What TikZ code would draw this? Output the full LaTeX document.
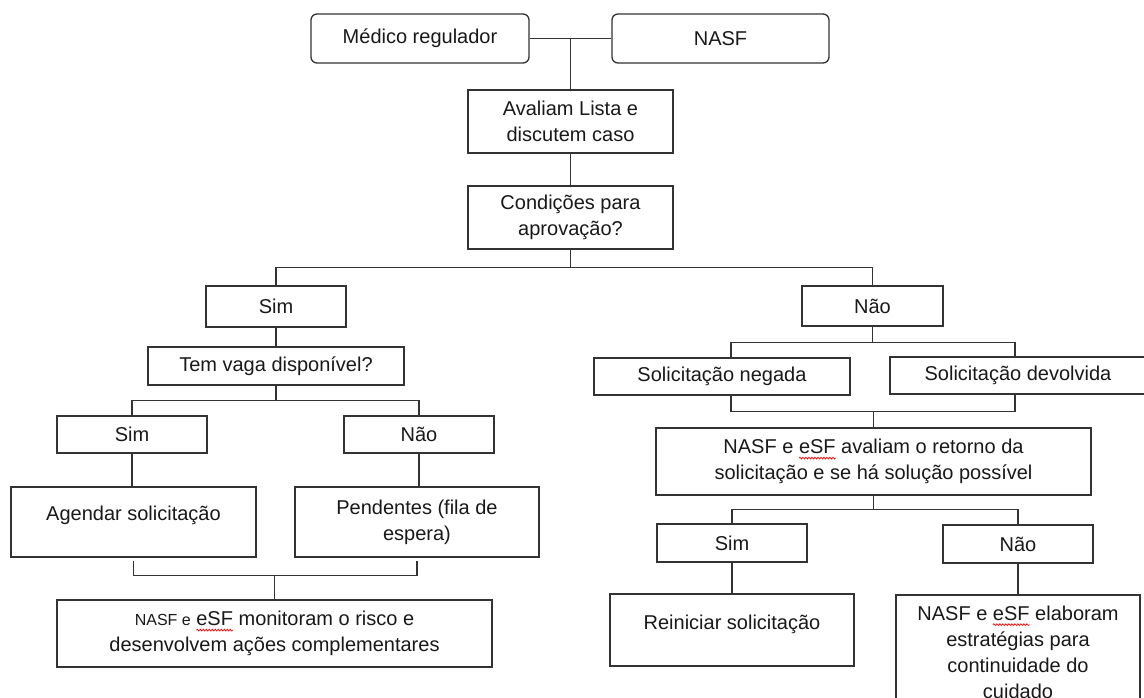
\documentclass[tikz,border=0pt]{standalone}
\usepackage{fontspec}
\setmainfont{Liberation Sans}
\usetikzlibrary{decorations.pathmorphing}
\newsavebox\wavebox
\newlength\wavelen
\newcommand\sqwave[1]{\sbox\wavebox{#1}\setlength\wavelen{\wd\wavebox}\usebox\wavebox\tikz[overlay,x=1pt,y=1pt]\draw[red,line width=0.7pt,decorate,decoration={snake,amplitude=0.9pt,segment length=3pt}] (-\wavelen,-4.5pt) -- (0pt,-4.5pt);}
\tikzset{
  box/.style={draw=black!80, line width=1.3pt, rectangle, inner sep=0pt, align=center,
    font=\fontsize{20}{26}\selectfont, text=black!90},
  rbox/.style={box, rounded corners=6pt},
  conn/.style={draw=black!80, line width=1.3pt},
}
\begin{document}
\begin{tikzpicture}[x=1pt,y=-1pt]
\useasboundingbox (0,0) rectangle (1144,697);
\clip (0,0) rectangle (1144,697);
\fill[white] (0,0) rectangle (1144,697);
% top
\node[rbox, minimum width=218pt, minimum height=49pt] (med) at (420,38.5) {Médico regulador};
\node[rbox, minimum width=217pt, minimum height=49pt] (nasf) at (720.5,38.5) {NASF};
\node[box, minimum width=205pt, minimum height=63pt] (aval) at (570.5,121.5) {Avaliam Lista e\\discutem caso};
\node[box, minimum width=205pt, minimum height=63pt] (cond) at (570.5,217.5) {Condições para\\aprovação?};
\node[box, minimum width=140pt, minimum height=41pt] (sim1) at (276,306.5) {Sim};
\node[box, minimum width=141pt, minimum height=40pt] (nao1) at (872.5,306) {Não};
% left branch
\node[box, minimum width=256pt, minimum height=38pt] (tem) at (276,366) {Tem vaga disponível?};
\node[box, minimum width=150pt, minimum height=37pt] (sim2) at (132,434.5) {Sim};
\node[box, minimum width=150pt, minimum height=37pt] (nao2) at (419,434.5) {Não};
\node[box, minimum width=245pt, minimum height=70pt] (agen) at (133.5,522) {Agendar solicitação\\[-8pt]\mbox{}};
\node[box, minimum width=244pt, minimum height=70pt] (pend) at (417,522) {Pendentes (fila de\\espera)};
\node[box, minimum width=435pt, minimum height=67pt] (mon) at (274.5,633.5)
  {{\fontsize{16}{26}\selectfont NASF e} \sqwave{eSF} monitoram o risco e\\desenvolvem ações complementares};
% right branch
\node[box, minimum width=256pt, minimum height=37pt] (neg) at (722,376.5) {Solicitação negada};
\node[box, minimum width=256pt, minimum height=37pt] (dev) at (1018,375.5) {Solicitação devolvida};
\node[box, minimum width=435pt, minimum height=67pt] (aval2) at (873.5,461.5)
  {NASF e \sqwave{eSF} avaliam o retorno da\\solicitação e se há solução possível};
\node[box, minimum width=150pt, minimum height=38pt] (sim3) at (732,543) {Sim};
\node[box, minimum width=150pt, minimum height=38pt] (nao3) at (1018,544) {Não};
\node[box, minimum width=244pt, minimum height=72pt] (rein) at (732,630) {Reiniciar solicitação\\[-10pt]\mbox{}};
\node[box, minimum width=244pt, minimum height=114pt] (last) at (1018,652)
  {NASF e \sqwave{eSF} elaboram\\estratégias para\\continuidade do\\cuidado};
% connectors
\coordinate (j1) at (aval.north |- med.east);
\draw[conn] (med.east) -- (nasf.west);
\draw[conn] (j1) -- (aval.north);
\draw[conn] (aval.south) -- (cond.north);
\coordinate (b1) at ([yshift=-18pt]cond.south);
\draw[conn] (cond.south) -- (b1);
\draw[conn] (sim1.north) |- (b1) -| (nao1.north);
\draw[conn] (sim1.south) -- (tem.north);
\coordinate (b2) at ([yshift=-15pt]tem.south);
\draw[conn] (tem.south) -- (b2);
\draw[conn] (sim2.north) |- (b2) -| (nao2.north);
\draw[conn] (sim2.south) -- (sim2.south |- agen.north);
\draw[conn] (nao2.south) -- (nao2.south |- pend.north);
\coordinate (c1) at ([yshift=-18pt]mon.north |- agen.south);
\draw[conn] ([yshift=-3pt]agen.south) |- (c1) -| ([yshift=-3pt]pend.south);
\draw[conn] (c1) -- (mon.north);
\coordinate (b3) at ([yshift=-16pt]nao1.south);
\draw[conn] (nao1.south) -- (b3);
\draw[conn] ([xshift=9pt]neg.north) |- (b3) -| ([xshift=-3pt]dev.north);
\coordinate (c2) at ([yshift=-17pt]aval2.north |- dev.south);
\draw[conn] ([xshift=9pt]neg.south) |- (c2) -| ([xshift=-3pt]dev.south);
\draw[conn] (c2) -- (aval2.north);
\coordinate (b4) at ([yshift=-14pt]aval2.south);
\draw[conn] (aval2.south) -- (b4);
\draw[conn] (sim3.north) |- (b4) -| (nao3.north);
\draw[conn] (sim3.south) -- (sim3.south |- rein.north);
\draw[conn] (nao3.south) -- (nao3.south |- last.north);
\end{tikzpicture}
\end{document}
